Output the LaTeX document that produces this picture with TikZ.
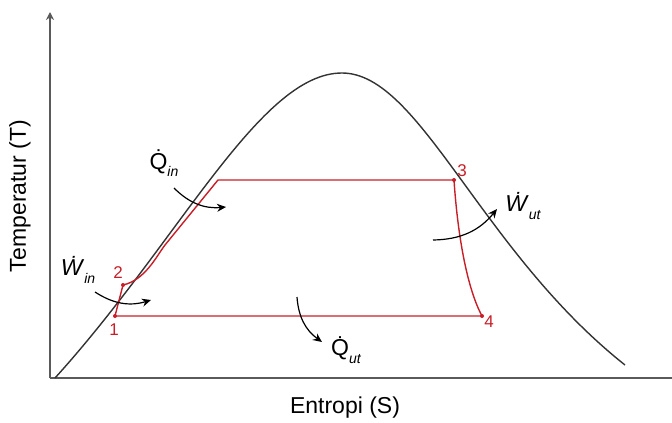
\documentclass[tikz,border=0pt]{standalone}
\usepackage{fontspec}
\setmainfont{Liberation Sans}
\usetikzlibrary{arrows.meta}
\definecolor{cyclered}{RGB}{200,30,40}
\definecolor{axisgray}{RGB}{90,90,90}
\tikzset{
  axis/.style={axisgray,line width=1.8pt},
  dome/.style={black!80,line width=1.4pt},
  cycle/.style={cyclered,line width=1.4pt},
  ptlabel/.style={cyclered,font=\fontsize{17}{17}\selectfont},
  axislabel/.style={font=\fontsize{23}{23}\selectfont},
  flow/.style={black,line width=1.2pt,-{Stealth[length=9pt,width=8pt]}},
  heat/.style={font=\fontsize{23}{23}\selectfont},
}
\newcommand{\rate}[2]{#1\raisebox{-0.6ex}{\fontsize{14}{14}\selectfont\itshape #2}}
\begin{document}
\begin{tikzpicture}[x=1pt,y=-1pt]
        \useasboundingbox (0,0) rectangle (672,423);
        % Axes
        \coordinate (o) at (50,378);
        \coordinate (ytop) at (50,12);
        \coordinate (xend) at (672,378);
        \draw[axis,-{Stealth[length=8pt,width=8pt]}] (o) -- (ytop);
        \draw[axis] (o) -- (xend);
        \node[axislabel] (xlab) at (345,408) {Entropi (S)};
        \node[axislabel,rotate=90] (ylab) at (20,196) {Temperatur (T)};
        % Saturation dome
        \draw[dome] (55,378) .. controls (180,240) and (260,73) .. (342,73)
                    .. controls (420,73) and (480,250) .. (625,365);
        % Cycle points
        \coordinate (p1) at (115,316);
        \coordinate (p2) at (123,285);
        \coordinate (pm) at (165,245);
        \coordinate (pa) at (218,180);
        \coordinate (p3) at (454,180);
        \coordinate (p4) at (482,316);
        % Cycle
        \draw[cycle] (p1) -- (p2) .. controls (145,280) and (156,257) .. (pm) -- (pa) -- (p3)
                     .. controls (458,240) and (468,290) .. (p4) -- cycle;
        \foreach \p in {p1,p2,p3,p4} {
            \fill[cyclered] (\p) circle (2pt);
        }
        \node[ptlabel] (l1) at (114,330) {1};
        \node[ptlabel] (l2) at (118,273) {2};
        \node[ptlabel] (l3) at (462,171) {3};
        \node[ptlabel] (l4) at (489,322) {4};
        % Energy flows
        \node[heat] (qin) at (164,163) {\rate{\.{Q}}{in}};
        \node[heat] (win) at (78,270) {\rate{\textit{\.{W}}}{in}};
        \node[heat] (qut) at (346,350) {\rate{\.{Q}}{ut}};
        \node[heat] (wut) at (523,206) {\rate{\textit{\.{W}}}{ut}};
        \coordinate (qina) at (174,188);
        \coordinate (qinb) at (226,207);
        \coordinate (wina) at (95,292);
        \coordinate (winb) at (151,300);
        \coordinate (quta) at (297,297);
        \coordinate (qutb) at (322,342);
        \coordinate (wuta) at (433,240);
        \coordinate (wutb) at (497,209);
        \draw[flow] (qina) to[bend right=25] (qinb);
        \draw[flow] (wina) to[bend right=25] (winb);
        \draw[flow] (quta) to[bend right=25] (qutb);
        \draw[flow] (wuta) to[bend right=25] (wutb);
    \end{tikzpicture}
\end{document}
